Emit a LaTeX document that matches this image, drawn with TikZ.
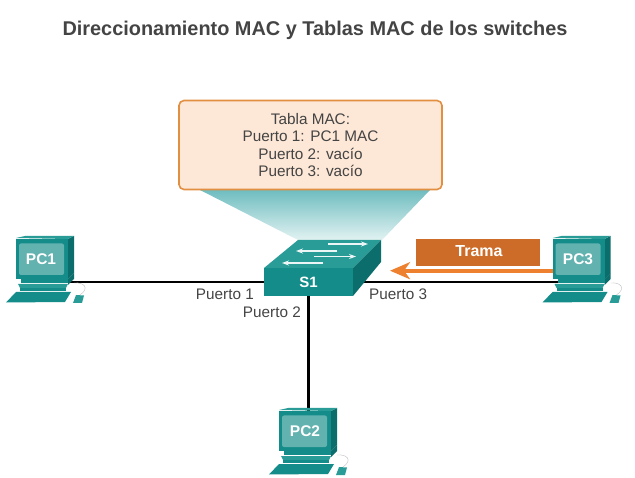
\documentclass[tikz,border=0pt]{standalone}
\usepackage{fontspec}
\setmainfont{Liberation Sans}
\usetikzlibrary{backgrounds,arrows.meta}
\definecolor{tealfront}{HTML}{148C8A}
\definecolor{tealdark}{HTML}{0C6E6C}
\definecolor{tealtop}{HTML}{2A9C98}
\definecolor{tealscreen}{HTML}{62B2B0}
\definecolor{txt}{HTML}{444444}
\definecolor{boxline}{HTML}{E28F42}
\definecolor{boxfill}{HTML}{FDE7D6}
\definecolor{tramafill}{HTML}{CC6C28}
\definecolor{arroworange}{HTML}{EE8130}
\definecolor{conetop}{HTML}{6FBDC0}
\definecolor{conebot}{HTML}{E2F2F2}
\tikzset{
  x=1pt,y=-1pt,
  portlabel/.style={font=\fontsize{15.3}{15.3}\selectfont,text=txt,inner sep=0pt},
  pclabel/.style={font=\fontsize{15.5}{15.5}\selectfont\bfseries,text=white,inner sep=0pt,minimum width=30pt,minimum height=14pt},
  wire/.style={line width=2.2pt,black},
  swarrow/.style={white!92!tealfront,line width=1.2pt,-{Stealth[length=7pt,width=5pt]}},
  pc/.pic={
    \fill[tealdark] (68,239) -- (74,236) -- (74,273) -- (68,279) -- cycle;
    \fill[tealtop] (16,238) -- (25,236) -- (74,236) -- (68,239) -- cycle;
    \fill[tealfront] (16,239) -- (68,239) -- (68,279) -- (16,279) -- cycle;
    \fill[tealscreen,rounded corners=2pt] (19,243.5) rectangle (64,275);
    \fill[tealdark] (68,279) -- (74,273) -- (74,279) -- (68,285) -- cycle;
    \fill[tealfront] (21,279) -- (68,279) -- (68,283) -- (21,283) -- cycle;
    \fill[tealtop] (18,284) -- (68,284) -- (66,288) -- (20,288) -- cycle;
    \fill[tealfront] (20,288) -- (66,288) -- (66,291) -- (20,291) -- cycle;
    \fill[tealfront] (16,292) -- (71,292) -- (65,302) -- (6,302.5) -- cycle;
    \fill[tealtop] (76,295) -- (84,295.5) -- (82,303) -- (73,303) -- cycle;
    \draw[line width=.4pt,black!25] (74,283) .. controls (84,282) and (90,288) .. (80,295);
  }
}
\begin{document}
\begin{tikzpicture}
\useasboundingbox (0,0) rectangle (635,478);
\node[inner sep=0pt,text=txt,font=\fontsize{19.9}{21}\selectfont\bfseries] (title) at (315,30) {Direccionamiento MAC y Tablas MAC de los switches};
% cone
\shade[top color=conetop,bottom color=conebot] (200,190) -- (430,190) -- (382,240) -- (298,240) -- cycle;
% table
\node[draw=boxline,fill=boxfill,line width=1.6pt,rounded corners=5pt,minimum width=263pt,minimum height=89pt,inner sep=0pt,text=txt,align=center,font=\fontsize{15.3}{17.3}\selectfont] (tabla) at (310.5,145) {Tabla MAC:\\Puerto 1: PC1 MAC\\Puerto 2: vacío\\Puerto 3: vacío};
% PCs
\pic at (0,0) {pc};
\pic at (263,172) {pc};
\pic at (536.5,0) {pc};
\node[pclabel] (pc1) at (41,259) {PC1};
\node[pclabel] (pc2) at (305,431) {PC2};
\node[pclabel] (pc3) at (578,259) {PC3};
% switch
\fill[tealtop] (264,268) -- (298,240) -- (381,240) -- (353,268) -- cycle;
\fill[tealdark] (353,268) -- (381,240) -- (381,262) -- (353,296) -- cycle;
\node[fill=tealfront,minimum width=89pt,minimum height=28pt,inner sep=0pt,text=white,font=\fontsize{15}{15}\selectfont\bfseries] (sw) at (308.5,282) {S1};
\draw[swarrow] (328,244) -- (368,244);
\draw[swarrow] (337,251) -- (296,251);
\draw[swarrow] (314,256.5) -- (356,256.5);
\draw[swarrow] (323,263) -- (282,263);
\begin{scope}[on background layer]
\draw[wire] (pc1 |- sw.west) -- (sw.west);
\draw[wire] (pc3 |- sw.east) -- (sw.east);
\draw[wire] (sw.south) -- (sw.south |- pc2.north);
\end{scope}
% labels
\node[portlabel,anchor=base east] (p1) at (254,300) {Puerto 1};
\node[portlabel,anchor=base east] (p2) at (301,318) {Puerto 2};
\node[portlabel,anchor=base west] (p3) at (369,300) {Puerto 3};
% trama
\node[fill=tramafill,minimum width=124pt,minimum height=27pt,inner sep=0pt] (trama) at (478,252.5) {};
\node[inner sep=0pt,text=white,font=\fontsize{16}{16}\selectfont\bfseries] (tramatxt) at (479,251.5) {Trama};
\coordinate (arrowstart) at (553,270.7);
\coordinate (arrowend) at (390,270.7);
\draw[arroworange,line width=4pt,-{Stealth[length=20pt,width=17pt,inset=6pt]}] (arrowstart) -- (arrowend);
\end{tikzpicture}
\end{document}
